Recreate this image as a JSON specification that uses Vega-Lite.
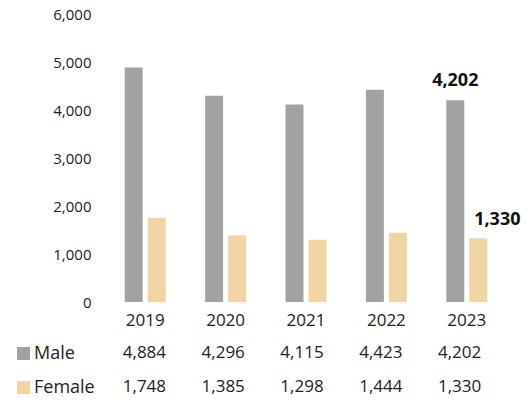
{
  "$schema": "https://vega.github.io/schema/vega-lite/v6.json",
  "padding": {"left": 10, "top": 7, "right": 5, "bottom": 2},
  "background": "white",
  "config": {"view": {"stroke": null}, "font": "Open Sans", "axis": {"labelFont": "Open Sans", "labelColor": "#222222"}},
  "datasets": {
    "d": [
      {"year": "2019", "sex": "Male", "value": 4884},
      {"year": "2019", "sex": "Female", "value": 1748},
      {"year": "2020", "sex": "Male", "value": 4296},
      {"year": "2020", "sex": "Female", "value": 1385},
      {"year": "2021", "sex": "Male", "value": 4115},
      {"year": "2021", "sex": "Female", "value": 1298},
      {"year": "2022", "sex": "Male", "value": 4423},
      {"year": "2022", "sex": "Female", "value": 1444},
      {"year": "2023", "sex": "Male", "value": 4202},
      {"year": "2023", "sex": "Female", "value": 1330}
    ]
  },
  "data": {"name": "d"},
  "spacing": 16,
  "resolve": {"scale": {"x": "independent"}},
  "vconcat": [
    {
      "width": 402,
      "height": 288,
      "encoding": {
        "x": {"field": "year", "type": "nominal", "scale": {"paddingInner": 0.49, "paddingOuter": 0.245},
          "axis": {"title": null, "labelAngle": 0, "domain": false, "ticks": false, "labelFontSize": 17, "labelPadding": 10}},
        "xOffset": {"field": "sex", "type": "nominal", "sort": ["Male", "Female"], "scale": {"domain": ["Male", "Female"], "paddingInner": 0.22, "paddingOuter": 0}},
        "y": {"field": "value", "type": "quantitative", "scale": {"domain": [0, 6000]},
          "axis": {"title": null, "values": [0, 1000, 2000, 3000, 4000, 5000, 6000], "domain": false, "ticks": false, "tickSize": 0, "grid": false, "labelFontSize": 15, "labelPadding": 14, "format": ",.0f"}}
      },
      "layer": [
        {
          "mark": {"type": "bar"},
          "encoding": {
            "color": {"field": "sex", "type": "nominal", "scale": {"domain": ["Male", "Female"], "range": ["#a2a2a2", "#f1d4a3"]}, "legend": null}
          }
        },
        {
          "transform": [{"filter": "datum.year == '2023' && datum.sex == 'Male'"}],
          "mark": {"type": "text", "fontSize": 18, "fontWeight": "bold", "dy": -19, "baseline": "middle", "color": "#111111"},
          "encoding": {"text": {"field": "value", "format": ","}}
        },
        {
          "transform": [{"filter": "datum.year == '2023' && datum.sex == 'Female'"}],
          "mark": {"type": "text", "fontSize": 18, "fontWeight": "bold", "dy": -18, "dx": 19, "baseline": "middle", "color": "#111111"},
          "encoding": {"text": {"field": "value", "format": ","}}
        }
      ]
    },
    {
      "width": 394,
      "height": 34,
      "mark": {"type": "text", "fontSize": 17, "color": "#222222", "baseline": "middle"},
      "encoding": {
        "x": {"field": "year", "type": "nominal", "scale": {"paddingInner": 0, "paddingOuter": 0}, "axis": null},
        "y": {"field": "sex", "type": "nominal", "scale": {"type": "point", "padding": 0, "domain": ["Male", "Female"]},
          "axis": {"title": null, "domain": false, "offset": 75.5, "tickSize": 13, "tickWidth": 13,
            "tickColor": {"condition": {"test": "datum.value === 'Male'", "value": "#a2a2a2"}, "value": "#f1d4a3"},
            "labelAlign": "left", "labelPadding": -17, "labelFontSize": 18, "labelColor": "#222222", "labelBaseline": "middle"}},
        "text": {"field": "value", "type": "quantitative", "format": ","}
      }
    }
  ]
}
